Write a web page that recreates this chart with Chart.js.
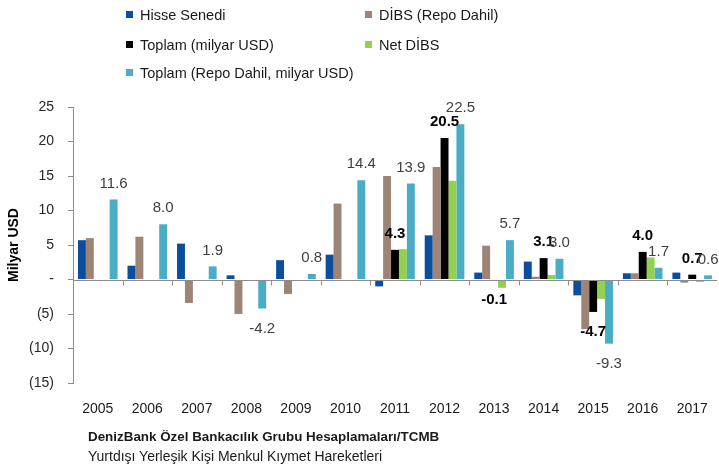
<!DOCTYPE html>
<html>
<head>
<meta charset="utf-8">
<script src="https://cdn.jsdelivr.net/npm/chart.js@4.4.1/dist/chart.umd.min.js"></script>
<style>
  html, body { margin:0; padding:0; background:#fff; }
  #wrap { position:relative; width:719px; height:470px; overflow:hidden; font-family:"Liberation Sans", Arial, sans-serif; }
  canvas { position:absolute; left:0; top:0; }
  .leg { position:absolute; font-size:14.5px; color:#1a1a1a; white-space:nowrap; line-height:16px; }
  .leg i { position:absolute; left:-14px; top:4px; width:7px; height:7px; }
  .foot { position:absolute; left:88px; font-size:14px; color:#1a1a1a; white-space:nowrap; }
</style>
</head>
<body>
<div id="wrap">
  <canvas id="c" width="719" height="470"></canvas>
</div>
<script>
// ---- data ----
const categories = ['2005','2006','2007','2008','2009','2010','2011','2012','2013','2014','2015','2016','2017'];
const seriesNames = ['Hisse Senedi','DİBS (Repo Dahil)','Toplam (milyar USD)','Net DİBS','Toplam (Repo Dahil, milyar USD)'];
const hisse      = [5.7, 2.0, 5.2, 0.6, 2.8, 3.6, -1.0, 6.4, 1.0, 2.6, -2.3, 0.9, 1.0];
const dibs       = [6.0, 6.2, -3.4, -5.0, -2.1, 11.0, 15.0, 16.3, 4.9, 0.4, -7.2, 0.9, -0.45];
const toplam     = [null, null, null, null, null, null, 4.3, 20.5, -0.1, 3.1, -4.7, 4.0, 0.7];
const netDibs    = [null, null, null, null, null, null, 4.4, 14.3, -1.2, 0.65, -2.8, 3.2, -0.35];
const toplamRepo = [11.6, 8.0, 1.9, -4.2, 0.8, 14.4, 13.9, 22.5, 5.7, 3.0, -9.3, 1.7, 0.6];
const yTicks     = [25, 20, 15, 10, 5, 0, -5, -10, -15];
const axisTitle  = 'Milyar USD';
const footBold   = 'DenizBank Özel Bankacılık Grubu Hesaplamaları/TCMB';
const footNormal = 'Yurtdışı Yerleşik Kişi Menkul Kıymet Hareketleri';

// ---- styles ----
const colors = ['#0B4F9C', '#9C8477', '#000000', '#92D050', '#4BACC6'];
const FONT = '"Liberation Sans", Arial, sans-serif';
const axisColor = '#8c8c8c';

// HTML legend (2 columns x 3 rows)
const legPos = [[140, 7], [379, 7], [140, 37], [379, 37], [140, 65]];
const wrap = document.getElementById('wrap');
seriesNames.forEach((n, i) => {
  const d = document.createElement('div');
  d.className = 'leg';
  d.style.left = legPos[i][0] + 'px';
  d.style.top = legPos[i][1] + 'px';
  d.innerHTML = '<i style="background:' + colors[i] + '"></i>';
  d.appendChild(document.createTextNode(n));
  wrap.appendChild(d);
});
const f1 = document.createElement('div');
f1.className = 'foot'; f1.style.top = '429px'; f1.style.fontWeight = 'bold'; f1.style.fontSize = '13.4px'; f1.textContent = footBold;
wrap.appendChild(f1);
const f2 = document.createElement('div');
f2.className = 'foot'; f2.style.top = '448px'; f2.textContent = footNormal;
wrap.appendChild(f2);

const seriesData = [hisse, dibs, toplam, netDibs, toplamRepo];
const labelSpecs = [
  { ds: 2, font: 'bold 15px ' + FONT, color: '#000000' },
  { ds: 4, font: '15px ' + FONT, color: '#404040' }
];

const overlay = {
  id: 'overlay',
  afterDatasetsDraw(chart) {
    const { ctx, chartArea, scales: { x, y } } = chart;
    const zy = Math.round(y.getPixelForValue(0)) + 0.5;
    ctx.save();
    ctx.strokeStyle = axisColor;
    ctx.lineWidth = 1;
    ctx.beginPath();
    ctx.moveTo(chartArea.left, zy);
    ctx.lineTo(chartArea.right, zy);
    for (let i = 1; i < categories.length; i++) {
      const bx = Math.round((x.getPixelForValue(i - 1) + x.getPixelForValue(i)) / 2) + 0.5;
      ctx.moveTo(bx, zy);
      ctx.lineTo(bx, zy + 5);
    }
    ctx.stroke();
    ctx.textAlign = 'center';
    ctx.textBaseline = 'middle';
    labelSpecs.forEach(spec => {
      const meta = chart.getDatasetMeta(spec.ds);
      const vals = chart.data.datasets[spec.ds].data;
      ctx.font = spec.font;
      ctx.fillStyle = spec.color;
      meta.data.forEach((bar, i) => {
        const v = vals[i];
        if (v === null || v === undefined) return;
        const ty = v >= 0 ? bar.y - 16 : bar.y + 20;
        ctx.fillText(v.toFixed(1), bar.x, ty);
      });
    });
    ctx.restore();
  }
};

new Chart(document.getElementById('c'), {
  type: 'bar',
  data: {
    labels: categories,
    datasets: seriesNames.map((n, i) => ({
      label: n,
      data: seriesData[i],
      backgroundColor: colors[i],
      borderWidth: 0,
      barPercentage: 1.0,
      categoryPercentage: 0.8
    }))
  },
  options: {
    responsive: false,
    animation: false,
    layout: { padding: { top: 107, left: 0, right: 2, bottom: 47 } },
    plugins: { legend: { display: false }, tooltip: { enabled: false } },
    scales: {
      x: {
        afterFit(s) { s.height = 40; },
        grid: { display: false },
        border: { display: false },
        ticks: { color: '#1a1a1a', font: { family: FONT, size: 14 }, padding: 10 }
      },
      y: {
        min: yTicks[yTicks.length - 1],
        max: yTicks[0],
        afterFit(s) { s.width = 73; },
        afterBuildTicks(s) { s.ticks = yTicks.map(v => ({ value: v })); },
        grid: { drawOnChartArea: false, drawTicks: true, tickLength: 5, color: axisColor, tickColor: axisColor },
        border: { display: true, color: axisColor },
        ticks: {
          color: '#262626',
          font: { family: FONT, size: 14 },
          padding: 14,
          callback: v => v === 0 ? '-' : (v < 0 ? '(' + (-v) + ')' : String(v))
        },
        title: { display: true, text: axisTitle, color: '#000', font: { family: FONT, size: 14, weight: 'bold' }, padding: { top: 6, bottom: 0 } }
      }
    }
  },
  plugins: [overlay]
});
</script>
</body>
</html>
